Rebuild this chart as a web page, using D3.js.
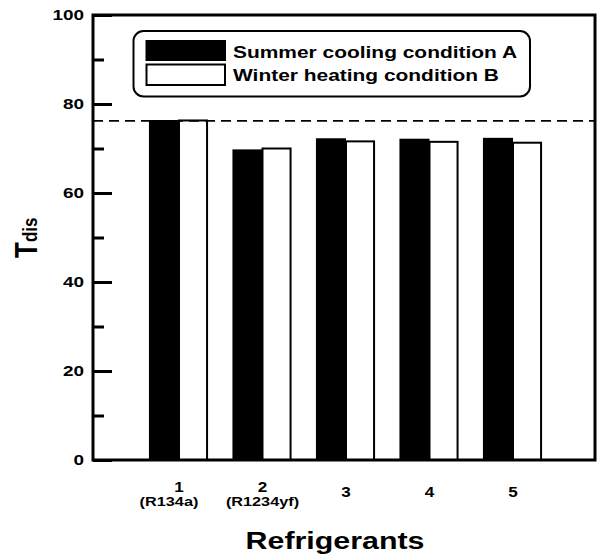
<!DOCTYPE html>
<html>
<head>
<meta charset="utf-8">
<script src="https://cdn.jsdelivr.net/npm/d3@7"></script>
<style>
  body { margin: 0; background: #fff; }
  text { font-family: "Liberation Sans", Arial, sans-serif; font-weight: bold; fill: #000; }
</style>
</head>
<body>
<div id="container"></div>
<script>
// data
const categories = [1, 2, 3, 4, 5];
const subLabels = ["(R134a)", "(R1234yf)", "", "", ""];
const summerA = [76.4, 69.8, 72.3, 72.2, 72.4];
const winterB = [76.3, 70.0, 71.6, 71.5, 71.3];
const seriesNames = ["Summer cooling condition A", "Winter heating condition B"];
const refLine = 76.2;
const yTicks = [0, 20, 40, 60, 80, 100];
const yMinor = [10, 30, 50, 70, 90];

//THE SVG
const w = 600, h = 556;
const plotL = 93, plotR = 595, plotT = 15, plotB = 460;
const stretch = 1.22; // reference text is drawn wide

const svg = d3.select("#container")
  .append("svg")
  .attr("width", w)
  .attr("height", h);

//stretch text horizontally like the reference
function widen(sel, k) {
  sel.each(function() {
    const len = this.getComputedTextLength();
    if (len > 0) {
      this.setAttribute("textLength", len * (k || stretch));
      this.setAttribute("lengthAdjust", "spacingAndGlyphs");
    }
  });
}

//THE SCALES
const xScale = d3.scaleLinear().domain([0, 6]).range([95.5, 596.5]);
const yScale = d3.scaleLinear().domain([0, 100]).range([plotB, plotT]);
const barW = (xScale(1) - xScale(0)) * 0.36;

//THE BARS
svg.selectAll(".barA")
  .data(summerA)
  .enter()
  .append("rect")
  .attr("class", "barA")
  .attr("x", (d, i) => xScale(categories[i]) - barW)
  .attr("y", d => yScale(d))
  .attr("width", barW)
  .attr("height", d => yScale(0) - yScale(d))
  .attr("fill", "#000");

svg.selectAll(".barB")
  .data(winterB)
  .enter()
  .append("rect")
  .attr("class", "barB")
  .attr("x", (d, i) => xScale(categories[i]))
  .attr("y", d => yScale(d))
  .attr("width", barW - 2)
  .attr("height", d => yScale(0) - yScale(d))
  .attr("fill", "#fff")
  .attr("stroke", "#000")
  .attr("stroke-width", 2);

//DASHED LINE
svg.append("line")
  .attr("x1", plotL).attr("x2", plotR)
  .attr("y1", yScale(refLine)).attr("y2", yScale(refLine))
  .attr("stroke", "#000")
  .attr("stroke-width", 1.6)
  .attr("stroke-dasharray", "10,6");

//THE AXES
const yAxis = d3.axisRight(yScale)
  .tickValues(yTicks)
  .tickSize(19)
  .tickFormat(d3.format("d"));
const yg = svg.append("g")
  .attr("transform", `translate(${plotL}, 0)`)
  .call(yAxis);
yg.select(".domain").remove();
yg.selectAll(".tick line").attr("stroke", "#000").attr("stroke-width", 3);
yg.selectAll(".tick text")
  .attr("x", -9)
  .attr("text-anchor", "end")
  .attr("font-size", 15.5)
  .attr("font-weight", "bold")
  .call(widen);

const yMinorAxis = d3.axisRight(yScale)
  .tickValues(yMinor)
  .tickSize(11)
  .tickFormat("");
const ym = svg.append("g")
  .attr("transform", `translate(${plotL}, 0)`)
  .call(yMinorAxis);
ym.select(".domain").remove();
ym.selectAll(".tick line").attr("stroke", "#000").attr("stroke-width", 3);

//FRAME
svg.append("rect")
  .attr("x", plotL).attr("y", plotT)
  .attr("width", plotR - plotL).attr("height", plotB - plotT)
  .attr("fill", "none")
  .attr("stroke", "#000")
  .attr("stroke-width", 3);

//X LABELS
const xl = svg.append("g");
xl.selectAll(".num")
  .data(categories)
  .enter()
  .append("text")
  .attr("class", "num")
  .attr("x", d => xScale(d))
  .attr("y", (d, i) => subLabels[i] ? 492 : 497)
  .attr("text-anchor", "middle")
  .attr("font-size", 14)
  .text(d => d)
  .call(widen);

xl.selectAll(".sub")
  .data(subLabels)
  .enter()
  .append("text")
  .attr("class", "sub")
  .attr("x", (d, i) => xScale(categories[i]) - (i === 0 ? 10 : 0))
  .attr("y", 505.5)
  .attr("text-anchor", "middle")
  .attr("font-size", 12.5)
  .text(d => d)
  .call(widen, 1.3);

//AXIS TITLES
svg.append("text")
  .attr("x", 335)
  .attr("y", 548.5)
  .attr("text-anchor", "middle")
  .attr("font-size", 23)
  .text("Refrigerants")
  .call(widen, 1.32);

const yt = svg.append("text")
  .attr("transform", "translate(37, 258) scale(1.2, 1) rotate(-90)")
  .attr("text-anchor", "start");
yt.append("tspan").attr("font-size", 26).text("T");
yt.append("tspan").attr("font-size", 17).text("dis");

//THE LEGEND
const legend = svg.append("g").attr("id", "legend");
legend.append("rect")
  .attr("x", 133.5).attr("y", 31)
  .attr("width", 396.5).attr("height", 65.5)
  .attr("rx", 10).attr("ry", 10)
  .attr("fill", "#fff")
  .attr("stroke", "#000")
  .attr("stroke-width", 2);

legend.selectAll(".sw")
  .data(seriesNames)
  .enter()
  .append("rect")
  .attr("class", "sw")
  .attr("x", (d, i) => i ? 146.5 : 145.5)
  .attr("y", (d, i) => i ? 64.5 : 40)
  .attr("width", (d, i) => i ? 78.5 : 80.5)
  .attr("height", (d, i) => i ? 20.5 : 21)
  .attr("fill", (d, i) => i ? "#fff" : "#000")
  .attr("stroke", (d, i) => i ? "#000" : "none")
  .attr("stroke-width", 2);

legend.selectAll(".lt")
  .data(seriesNames)
  .enter()
  .append("text")
  .attr("class", "lt")
  .attr("x", 233)
  .attr("y", (d, i) => i ? 80.5 : 57.5)
  .attr("font-size", 17)
  .text(d => d)
  .each(function(d, i) {
    this.setAttribute("textLength", i ? 266 : 284);
    this.setAttribute("lengthAdjust", "spacingAndGlyphs");
  });
</script>
</body>
</html>
